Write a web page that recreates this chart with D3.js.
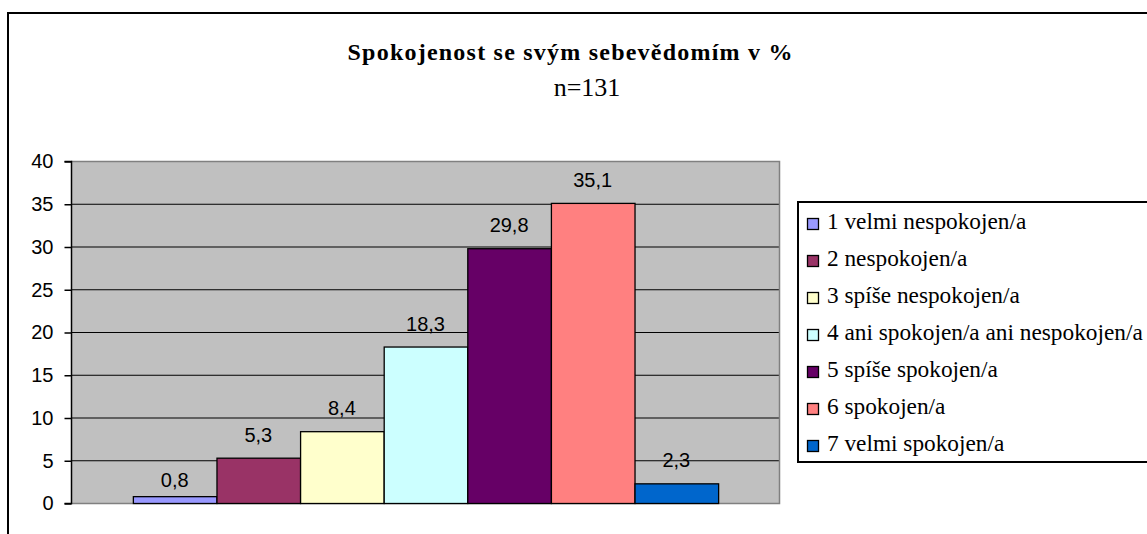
<!DOCTYPE html>
<html><head><meta charset="utf-8">
<script src="https://cdn.jsdelivr.net/npm/d3@7"></script>
<style>html,body{margin:0;padding:0;background:#fff;overflow:hidden}
.serif{font-family:"Liberation Serif","Tinos","Times New Roman","DejaVu Serif","Noto Serif",serif}
.sans{font-family:"Liberation Sans",Arial,"DejaVu Sans",sans-serif}</style>
</head><body>
<svg id="c" width="1147" height="534"></svg>
<script>
const categories = ["1 velmi nespokojen/a","2 nespokojen/a","3 spíše nespokojen/a","4 ani spokojen/a ani nespokojen/a","5 spíše spokojen/a","6 spokojen/a","7 velmi spokojen/a"];
const values = [0.8, 5.3, 8.4, 18.3, 29.8, 35.1, 2.3];
const valueLabels = ["0,8","5,3","8,4","18,3","29,8","35,1","2,3"];
const colors = ["#9999FF","#993366","#FFFFCC","#CCFFFF","#660066","#FF8080","#0066CC"];
const yTicks = [0,5,10,15,20,25,30,35,40];
const title = "Spokojenost se svým sebevědomím v %";
const subtitle = "n=131";

const svg = d3.select("#c");
svg.append("rect").attr("x",8).attr("y",13).attr("width",1300).attr("height",700)
  .attr("fill","#fff").attr("stroke","#000").attr("stroke-width",2);

const L=71, R=780, T=161, B=503;
const y = d3.scaleLinear().domain([0,40]).range([B,T]);
const x = d3.scaleBand().domain(categories).range([L,R]).paddingInner(0).paddingOuter(0.74);

svg.append("rect").attr("x",L).attr("y",T).attr("width",R-L).attr("height",B-T).attr("fill","#C0C0C0");
svg.append("g").selectAll("line").data(yTicks.filter(v=>v>0 && v<40)).join("line")
  .attr("x1",L).attr("x2",R).attr("y1",d=>y(d)+0.5).attr("y2",d=>y(d)+0.5)
  .attr("stroke","#000").attr("stroke-width",1);
svg.append("path").attr("d",`M${L},${T+0.5}H${R-0.5}V${B+0.5}H${L}`).attr("fill","none").attr("stroke","#808080").attr("stroke-width",1.5);

svg.append("g").selectAll("rect").data(values).join("rect")
  .attr("x",(d,i)=>x(categories[i])+0.5).attr("width",x.bandwidth())
  .attr("y",d=>y(d)+0.5).attr("height",d=>B-y(d))
  .attr("fill",(d,i)=>colors[i]).attr("stroke","#000").attr("stroke-width",1.3);

const yAxis = d3.axisLeft(y).tickValues(yTicks).tickSize(7).tickPadding(11).tickFormat(d3.format("d"));
const ga = svg.append("g").attr("transform",`translate(${L+0.5},0.5)`).call(yAxis);
ga.select(".domain").attr("stroke","#000").attr("stroke-width",1.5).attr("d",`M-7,${T}H0V${B}H-7`);
ga.selectAll(".tick line").attr("stroke","#000").attr("stroke-width",1.5);
ga.selectAll("text").attr("class","sans").attr("font-family",null).attr("font-size",20).attr("fill","#000");

svg.append("g").selectAll("text").data(values).join("text").attr("class","sans")
  .attr("x",(d,i)=>x(categories[i])+x.bandwidth()/2).attr("y",d=>y(d)-Math.max(9,Math.min(16,y(0)-y(d))))
  .attr("text-anchor","middle").attr("font-size",20).attr("fill","#000").text((d,i)=>valueLabels[i]);

svg.append("text").attr("class","serif").attr("x",570).attr("y",60).attr("text-anchor","middle")
  .attr("font-weight","bold").attr("font-size",24).attr("textLength",445).attr("lengthAdjust","spacing").text(title);
svg.append("text").attr("class","serif").attr("x",587).attr("y",96).attr("text-anchor","middle")
  .attr("font-size",26).text(subtitle);

const lg = svg.append("g");
lg.append("rect").attr("x",798).attr("y",202).attr("width",500).attr("height",260)
  .attr("fill","#fff").attr("stroke","#000").attr("stroke-width",2);
const items = lg.selectAll("g.it").data(categories).join("g").attr("class","it")
  .attr("transform",(d,i)=>`translate(0,${229+37*i})`);
items.append("rect").attr("x",807.5).attr("y",-10.5).attr("width",11).attr("height",11)
  .attr("fill",(d,i)=>colors[i]).attr("stroke","#000").attr("stroke-width",1.3);
const lt = items.append("text").attr("class","serif").attr("x",827).attr("y",0)
  .attr("font-size",21).attr("fill","#000").text(d=>d);
// fit longest legend label to the reference width
const maxW = d3.max(lt.nodes(), n=>n.getComputedTextLength());
if (maxW > 0) lt.attr("font-size", 21*316/maxW);
</script>
</body></html>
